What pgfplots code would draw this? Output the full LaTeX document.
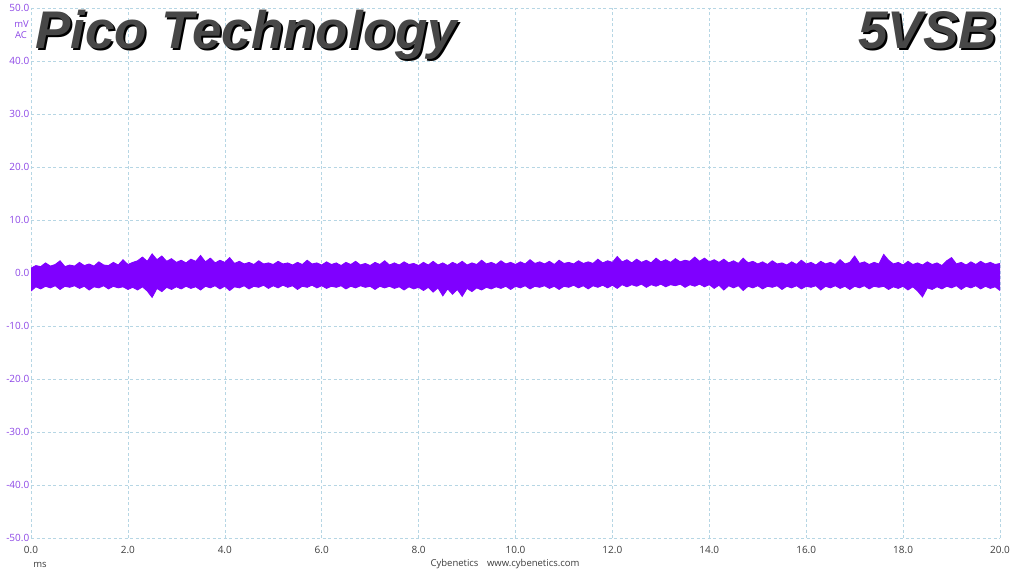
\documentclass[border=0pt]{standalone}
\usepackage{pgfplots}
\usepackage{pgfplotstable}
\pgfplotsset{compat=1.18}
\usepgfplotslibrary{fillbetween}
\usepackage{fontspec}
\setmainfont{Open Sans}
\newfontfamily\titlefont{Liberation Sans}

\definecolor{sig}{RGB}{127,0,255}
\definecolor{ylab}{RGB}{140,70,230}
\definecolor{xlab}{RGB}{60,60,60}
\definecolor{gridc}{RGB}{182,214,228}

% envelope of the 5VSB ripple trace (mV), read off the scope capture
\pgfplotstableread{
t up lo
0.0 0.9 -3.4
0.1 1.4 -2.6
0.2 1.2 -3.0
0.3 1.9 -2.5
0.4 1.3 -2.8
0.5 1.6 -2.4
0.6 2.3 -3.1
0.7 1.2 -2.5
0.8 1.5 -2.7
0.9 1.3 -2.4
1.0 2.0 -2.9
1.1 1.4 -2.5
1.2 1.7 -3.2
1.3 1.3 -2.6
1.4 2.1 -2.8
1.5 1.5 -2.4
1.6 1.4 -3.0
1.7 2.0 -2.5
1.8 1.5 -2.8
1.9 2.5 -2.6
2.0 1.6 -3.1
2.1 2.0 -2.7
2.2 2.3 -3.2
2.3 3.0 -2.6
2.4 2.2 -3.4
2.5 3.6 -4.6
2.6 2.5 -2.9
2.7 3.2 -3.5
2.8 2.2 -2.7
2.9 2.7 -3.1
3.0 2.0 -2.6
3.1 2.4 -3.0
3.2 1.9 -2.5
3.3 2.6 -2.9
3.4 2.2 -2.6
3.5 3.3 -3.2
3.6 2.1 -2.5
3.7 2.8 -2.8
3.8 1.9 -2.4
3.9 2.4 -3.0
4.0 2.0 -2.5
4.1 2.9 -3.3
4.2 1.8 -2.6
4.3 2.2 -2.8
4.4 1.7 -2.4
4.5 2.0 -3.0
4.6 1.6 -2.5
4.7 2.3 -2.7
4.8 1.7 -2.3
4.9 1.9 -2.9
5.0 1.6 -2.4
5.1 2.2 -2.8
5.2 1.7 -2.3
5.3 1.9 -2.7
5.4 1.5 -2.4
5.5 2.0 -3.1
5.6 1.6 -2.5
5.7 2.4 -2.7
5.8 1.7 -2.3
5.9 1.9 -2.8
6.0 1.5 -2.4
6.1 2.1 -2.9
6.2 1.6 -2.5
6.3 1.9 -2.7
6.4 1.4 -2.4
6.5 2.0 -3.0
6.6 1.6 -2.5
6.7 2.2 -2.8
6.8 1.5 -2.4
6.9 1.8 -2.7
7.0 1.4 -2.5
7.1 2.0 -3.1
7.2 1.6 -2.5
7.3 2.3 -2.8
7.4 1.5 -2.5
7.5 1.9 -2.9
7.6 1.5 -2.6
7.7 2.1 -3.2
7.8 1.6 -2.6
7.9 1.8 -3.0
8.0 1.4 -2.7
8.1 2.0 -3.3
8.2 1.5 -2.7
8.3 2.2 -3.6
8.4 1.5 -2.8
8.5 1.9 -4.3
8.6 1.4 -3.0
8.7 2.0 -4.0
8.8 1.6 -3.1
8.9 2.2 -4.4
9.0 1.5 -2.9
9.1 1.9 -3.5
9.2 1.6 -2.8
9.3 2.4 -3.2
9.4 1.7 -2.7
9.5 2.0 -3.0
9.6 1.6 -2.6
9.7 2.3 -2.9
9.8 1.7 -2.5
9.9 2.0 -3.1
10.0 1.6 -2.5
10.1 2.1 -2.8
10.2 1.7 -2.4
10.3 2.5 -3.0
10.4 1.8 -2.5
10.5 2.1 -2.7
10.6 1.7 -2.4
10.7 2.2 -2.9
10.8 1.6 -2.5
10.9 2.4 -3.1
11.0 1.8 -2.5
11.1 2.0 -2.7
11.2 1.7 -2.3
11.3 2.3 -2.8
11.4 1.8 -2.4
11.5 2.1 -3.0
11.6 1.8 -2.4
11.7 2.6 -2.7
11.8 1.9 -2.3
11.9 2.3 -2.8
12.0 2.0 -2.3
12.1 3.1 -2.9
12.2 2.1 -2.2
12.3 2.5 -2.6
12.4 1.9 -2.2
12.5 2.6 -2.5
12.6 2.0 -2.1
12.7 2.4 -2.7
12.8 1.9 -2.2
12.9 2.8 -2.5
13.0 2.1 -2.1
13.1 2.5 -2.6
13.2 2.0 -2.2
13.3 2.7 -2.4
13.4 2.1 -2.1
13.5 2.4 -2.7
13.6 2.2 -2.2
13.7 3.0 -2.5
13.8 2.2 -2.1
13.9 2.8 -2.6
14.0 2.1 -2.2
14.1 2.5 -2.9
14.2 2.0 -2.3
14.3 2.6 -3.2
14.4 1.9 -2.4
14.5 2.3 -2.8
14.6 1.8 -2.4
14.7 2.8 -3.3
14.8 1.9 -2.5
14.9 2.2 -2.8
15.0 1.7 -2.4
15.1 2.1 -3.0
15.2 1.6 -2.5
15.3 2.3 -2.7
15.4 1.7 -2.4
15.5 1.9 -3.1
15.6 1.5 -2.5
15.7 2.1 -2.8
15.8 1.6 -2.4
15.9 2.4 -3.0
16.0 1.7 -2.5
16.1 2.0 -2.7
16.2 1.5 -2.4
16.3 2.2 -3.2
16.4 1.7 -2.5
16.5 2.0 -2.8
16.6 1.6 -2.4
16.7 2.5 -2.9
16.8 1.7 -2.5
16.9 2.0 -3.1
17.0 3.2 -2.5
17.1 1.8 -2.8
17.2 2.1 -2.4
17.3 1.6 -3.0
17.4 2.0 -2.5
17.5 1.7 -2.7
17.6 3.5 -2.5
17.7 2.4 -3.1
17.8 1.7 -2.6
17.9 2.0 -2.9
18.0 1.5 -2.5
18.1 2.2 -3.2
18.2 1.6 -2.6
18.3 1.9 -3.4
18.4 1.5 -4.5
18.5 2.1 -2.8
18.6 1.6 -3.1
18.7 1.9 -2.6
18.8 1.4 -3.0
18.9 2.3 -2.5
19.0 2.9 -2.8
19.1 1.7 -2.4
19.2 2.0 -3.1
19.3 1.5 -2.5
19.4 2.1 -2.8
19.5 1.6 -2.4
19.6 2.2 -3.0
19.7 1.7 -2.5
19.8 2.0 -2.9
19.9 1.6 -2.6
20.0 1.8 -3.3
}\noise

\begin{document}
\begin{tikzpicture}
\path (0pt,0pt) rectangle (1015pt,571pt);
\begin{axis}[
    at={(31pt,33pt)}, anchor=south west,
    scale only axis,
    width=969pt, height=530pt,
    xmin=0, xmax=20, ymin=-50, ymax=50,
    xtick={0,2,...,20},
    ytick={-50,-40,...,50},
    xticklabels={0.0,2.0,4.0,6.0,8.0,10.0,12.0,14.0,16.0,18.0,20.0},
    yticklabels={-50.0,-40.0,-30.0,-20.0,-10.0,0.0,10.0,20.0,30.0,40.0,50.0},
    major tick length=0pt,
    axis line style={draw=none},
    grid=major,
    major grid style={color=gridc, line width=0.6pt, dash pattern=on 3pt off 2.5pt},
    xticklabel style={font=\fontsize{10}{12}\selectfont, text=xlab, inner sep=0pt, anchor=north, yshift=-8pt},
    yticklabel style={font=\fontsize{10}{12}\selectfont, text=ylab, inner sep=0pt, anchor=east, xshift=-1.5pt},
  ]
  \addplot[draw=sig, line width=0.9pt, name path=up] table[x=t, y=up] {\noise};
  \addplot[draw=sig, line width=0.9pt, name path=lo] table[x=t, y=lo] {\noise};
  \addplot[fill=sig, draw=none] fill between[of=up and lo];
\end{axis}

% unit labels at the top of the y scale
\node[text=ylab, font=\fontsize{9.5}{11}\selectfont, inner sep=0pt] at (21.5pt,547pt) {mV};
\node[text=ylab, font=\fontsize{9.5}{11}\selectfont, inner sep=0pt] at (21pt,536pt) {AC};
% bottom captions
\node[text=xlab, font=\fontsize{9.5}{11}\selectfont, inner sep=0pt] at (40pt,6pt) {ms};
\node[text=xlab, font=\fontsize{9.5}{11}\selectfont, inner sep=0pt] at (505pt,7pt) {Cybenetics\hspace{0.9em}www.cybenetics.com};

% big titles with a drop shadow
\node[anchor=base west, inner sep=0pt, text=black, font=\titlefont\bfseries\itshape\fontsize{53}{60}\selectfont] at (37pt,520.5pt) {Pico Technology};
\node[anchor=base west, inner sep=0pt, text=black!72, font=\titlefont\bfseries\itshape\fontsize{53}{60}\selectfont] at (35pt,522.5pt) {Pico Technology};
\node[anchor=base east, inner sep=0pt, text=black, font=\titlefont\bfseries\itshape\fontsize{53}{60}\selectfont] at (999pt,520.5pt) {5VSB};
\node[anchor=base east, inner sep=0pt, text=black!72, font=\titlefont\bfseries\itshape\fontsize{53}{60}\selectfont] at (997pt,522.5pt) {5VSB};

\pgfresetboundingbox
\path (0pt,0pt) rectangle (1015pt,571pt);
\end{tikzpicture}
\end{document}
